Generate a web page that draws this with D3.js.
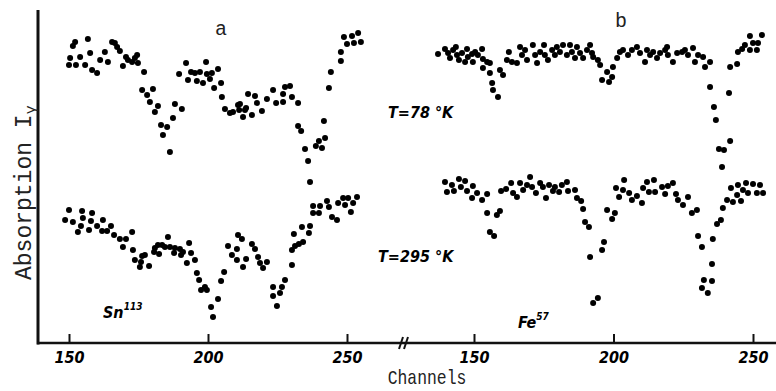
<!DOCTYPE html>
<html>
<head>
<meta charset="utf-8">
<script src="https://cdn.jsdelivr.net/npm/d3@7"></script>
<style>
  body { margin: 0; background: #fff; }
  svg { display: block; }
  .mono { font-family: "Liberation Mono", "Courier New", monospace; fill: #222; }
  .bold { font-family: "Liberation Sans Narrow", "DejaVu Sans Condensed", "DejaVu Sans", sans-serif; font-stretch: condensed;
          font-weight: bold; font-style: italic; fill: #000; }
</style>
</head>
<body>
<div id="chart"></div>
<script>
// Mossbauer absorption spectra: (channel, absorption in arbitrary units)
// panel a: Sn113 source
const snCold = [
  [150.0,278],[150.4,285],[151.4,297],[152.2,301],[152.5,278],[154.0,286],[155.8,278],[156.8,304],
  [157.6,290],[158.3,273],[160.1,270],[161.2,283],[162.9,291],[164.0,281],[165.5,301],[166.5,300],
  [167.3,296],[168.3,292],[169.4,277],[170.5,286],[171.2,283],[172.7,281],[173.7,285],[174.5,288],
  [174.8,280],[176.3,253],[177.0,271],[178.1,248],[179.1,241],[180.2,254],[180.9,231],[182.0,237],
  [183.1,218],[183.8,208],[185.3,216],[186.3,191],[187.4,225],[188.1,239],[189.6,269],[190.6,234],
  [192.1,280],[192.8,263],[193.9,271],[195.3,270],[196.0,262],[197.1,271],[198.2,260],[199.3,281],
  [199.6,269],[200.7,264],[201.4,270],[202.2,255],[203.6,274],[204.7,260],[205.0,246],[206.1,234],
  [207.9,230],[209.0,231],[210.8,238],[211.2,233],[211.5,239],[212.6,226],[213.3,233],[213.7,235],
  [214.4,249],[215.8,228],[216.9,247],[217.6,240],[219.4,232],[221.2,244],[223.4,253],[224.5,240],
  [227.0,241],[227.0,249],[227.7,256],[229.5,257],[230.2,246],[232.4,240],[232.4,217],[233.5,212],
  [234.9,194],[236.0,182],[236.7,161],[238.8,197],[239.9,202],[241.0,195],[241.7,222],[242.1,205],
  [243.5,255],[244.2,271],[247.8,291],[247.8,282],[248.9,306],[250.0,299],[251.8,307],[252.5,300],
  [254.0,310],[255.0,301]
];
const snWarm = [
  [148.6,123],[150.0,133],[151.4,121],[153.2,111],[154.3,117],[154.7,132],[155.0,125],[157.2,113],
  [157.9,122],[158.3,130],[160.1,117],[161.9,112],[162.2,123],[163.7,112],[165.1,117],[166.2,108],
  [168.3,104],[169.4,96],[170.5,104],[172.7,111],[173.0,93],[173.7,83],[175.5,76],[175.9,81],
  [176.3,87],[177.3,88],[178.8,77],[180.6,91],[180.9,95],[182.0,98],[182.4,89],[183.5,98],
  [184.5,96],[185.6,106],[186.3,96],[187.8,90],[188.1,95],[189.9,94],[190.3,88],[191.0,91],
  [192.4,80],[193.2,100],[193.9,90],[195.3,83],[196.0,70],[196.8,63],[197.5,53],[198.9,56],
  [199.6,53],[201.1,36],[201.8,26],[203.6,44],[204.7,62],[205.8,71],[207.2,97],[208.6,88],
  [210.4,94],[210.4,83],[210.8,108],[212.2,104],[212.6,76],[213.7,84],[215.8,99],[216.9,94],
  [218.0,86],[218.7,80],[219.8,75],[221.2,81],[223.4,56],[223.4,47],[224.8,37],[225.9,50],
  [226.6,56],[227.7,63],[230.2,78],[230.2,93],[230.9,109],[231.3,97],[232.7,99],[233.8,116],
  [234.2,101],[236.3,110],[236.7,117],[237.8,137],[237.8,130],[239.9,130],[240.3,137],[242.8,142],
  [243.5,136],[244.6,126],[246.4,123],[246.8,140],[248.6,145],[249.3,138],[250.4,145],[251.4,131],
  [252.2,140],[253.6,146]
];
// panel b: Fe57 source
const feCold = [
  [137.1,289],[139.6,294],[140.7,290],[141.4,285],[142.5,293],[143.5,296],[143.9,288],[144.6,283],
  [145.7,290],[146.8,281],[147.5,294],[147.8,286],[149.3,289],[149.6,281],[150.4,291],[151.4,288],
  [152.9,294],[153.2,284],[153.2,275],[154.7,281],[155.7,280],[155.7,270],[156.5,260],[156.8,253],
  [158.6,246],[159.3,273],[160.4,268],[161.8,283],[162.5,291],[163.6,281],[165.4,280],[166.5,296],
  [167.2,288],[168.3,293],[169.0,283],[171.1,298],[171.9,288],[172.6,280],[173.7,291],[175.1,298],
  [175.4,288],[176.5,283],[178.0,293],[179.0,288],[179.7,296],[180.8,291],[181.9,298],[183.3,288],
  [184.4,298],[185.1,291],[186.2,285],[186.9,296],[188.0,290],[189.1,285],[190.5,293],[191.6,298],
  [192.3,290],[192.7,286],[194.4,283],[195.2,278],[195.9,263],[197.7,271],[198.4,261],[199.5,266],
  [199.8,276],[201.3,285],[202.3,291],[203.4,293],[205.2,288],[206.6,293],[208.4,296],[209.5,290],
  [211.3,281],[212.0,293],[213.1,288],[214.2,291],[215.6,285],[216.7,290],[218.5,293],[219.2,296],
  [219.5,288],[221.3,281],[222.8,290],[224.6,291],[225.6,293],[226.7,288],[228.5,295],[229.2,281],
  [230.3,288],[232.1,286],[232.8,276],[234.6,281],[234.6,256],[236.0,236],[236.7,223],[237.8,194],
  [238.9,176],[239.6,193],[241.4,250],[241.8,202],[241.8,276],[244.3,279],[244.6,291],[246.1,294],
  [247.1,298],[248.9,307],[248.9,293],[250.0,300],[251.4,293],[251.8,300],[253.2,308]
];
const feWarm = [
  [139.6,161],[140.3,151],[142.1,158],[142.8,152],[144.6,164],[145.3,156],[146.8,162],[147.5,152],
  [149.3,145],[149.6,157],[151.1,150],[152.9,143],[154.7,149],[154.7,130],[155.7,111],[157.2,107],
  [158.2,128],[159.3,132],[159.7,152],[161.5,154],[163.3,160],[164.0,150],[165.4,146],[166.5,160],
  [167.6,153],[169.0,158],[170.1,166],[170.8,156],[172.2,150],[173.7,160],[174.7,156],[175.8,145],
  [176.9,158],[178.3,152],[179.0,156],[180.5,151],[181.5,158],[183.3,161],[183.7,152],[186.2,153],
  [186.9,145],[188.4,142],[189.1,134],[189.8,121],[191.2,116],[191.6,86],[192.7,40],[194.4,45],
  [195.9,93],[196.6,101],[197.7,133],[199.5,124],[200.5,130],[200.9,155],[202.0,146],[203.4,153],
  [203.8,163],[205.6,150],[206.6,143],[208.4,147],[210.2,140],[210.6,155],[212.0,161],[212.7,151],
  [214.5,163],[214.9,151],[217.4,156],[218.5,149],[219.5,157],[221.3,160],[222.4,149],[223.1,143],
  [224.9,138],[226.7,146],[228.1,130],[229.9,133],[230.3,107],[231.7,96],[231.7,55],[232.4,63],
  [233.8,50],[235.3,79],[235.3,62],[235.6,104],[237.1,119],[238.5,123],[239.2,135],[240.7,143],
  [242.1,155],[242.8,141],[244.3,148],[244.6,158],[245.7,142],[246.4,153],[247.5,160],[248.2,150],
  [250.0,159],[251.4,150],[252.5,158],[253.6,150]
];
const channelTicks = [150, 200, 250];

const width = 776, height = 391;
const svg = d3.select("#chart").append("svg")
  .attr("width", width)
  .attr("height", height);

const xa = d3.scaleLinear().domain([150, 250]).range([69, 347]);
const xb = d3.scaleLinear().domain([150, 250]).range([474, 753]);
const y = d3.scaleLinear().domain([0, 333]).range([343, 10]);
const axisY = y(0);

// points
function drawDots(data, x) {
  svg.append("g")
    .selectAll("circle")
    .data(data)
    .join("circle")
    .attr("cx", d => x(d[0]))
    .attr("cy", d => y(d[1]))
    .attr("r", 3)
    .attr("fill", "#000");
}
drawDots(snCold, xa);
drawDots(snWarm, xa);
drawDots(feCold, xb);
drawDots(feWarm, xb);

// axes
svg.append("line")
  .attr("x1", 38).attr("x2", 38)
  .attr("y1", y(333)).attr("y2", axisY + 1.5)
  .attr("stroke", "#111").attr("stroke-width", 3);
svg.append("line")
  .attr("x1", 37).attr("x2", width)
  .attr("y1", axisY).attr("y2", axisY)
  .attr("stroke", "#111").attr("stroke-width", 2.6);

[xa, xb].forEach(x => {
  const g = svg.append("g")
    .attr("transform", `translate(0,${axisY})`)
    .call(d3.axisBottom(x).tickValues(channelTicks).tickSize(-9).tickPadding(9).tickFormat(d3.format("d")));
  g.select(".domain").remove();
  g.selectAll(".tick line").attr("stroke", "#111").attr("stroke-width", 2);
  g.selectAll(".tick text")
    .attr("class", "bold")
    .style("font-size", "16px")
    .attr("fill", "#000");
});

// axis break
const brk = svg.append("g").attr("stroke", "#111").attr("stroke-width", 2);
brk.append("line").attr("x1", 399).attr("y1", axisY + 6).attr("x2", 403).attr("y2", axisY - 6);
brk.append("line").attr("x1", 404).attr("y1", axisY + 6).attr("x2", 408).attr("y2", axisY - 6);

// axis titles
svg.append("text")
  .attr("class", "mono")
  .attr("transform", "translate(427,384) scale(0.82,1)")
  .attr("text-anchor", "middle")
  .style("font-size", "20px")
  .text("Channels");

const yTitle = svg.append("text")
  .attr("class", "mono")
  .attr("transform", "translate(31,280) rotate(-90)")
  .style("font-size", "23px");
yTitle.append("tspan").text("Absorption I");
yTitle.append("tspan").attr("dy", 4).style("font-size", "15px").text("γ");

// panel labels
svg.append("text").attr("class", "mono").attr("x", 221).attr("y", 35)
  .attr("text-anchor", "middle").style("font-size", "20px").text("a");
svg.append("text").attr("class", "mono").attr("x", 621).attr("y", 27)
  .attr("text-anchor", "middle").style("font-size", "20px").text("b");

svg.append("text").attr("class", "bold").attr("x", 388).attr("y", 118)
  .style("font-size", "16px").text("T=78 °K");
svg.append("text").attr("class", "bold").attr("x", 378).attr("y", 262)
  .style("font-size", "16px").text("T=295 °K");

const sn = svg.append("text").attr("class", "bold").attr("x", 103).attr("y", 318).style("font-size", "16px");
sn.append("tspan").text("Sn");
sn.append("tspan").attr("dy", -8).style("font-size", "10px").text("113");

const fe = svg.append("text").attr("class", "bold").attr("x", 518).attr("y", 328).style("font-size", "16px");
fe.append("tspan").text("Fe");
fe.append("tspan").attr("dy", -8).style("font-size", "10px").text("57");
</script>
</body>
</html>
